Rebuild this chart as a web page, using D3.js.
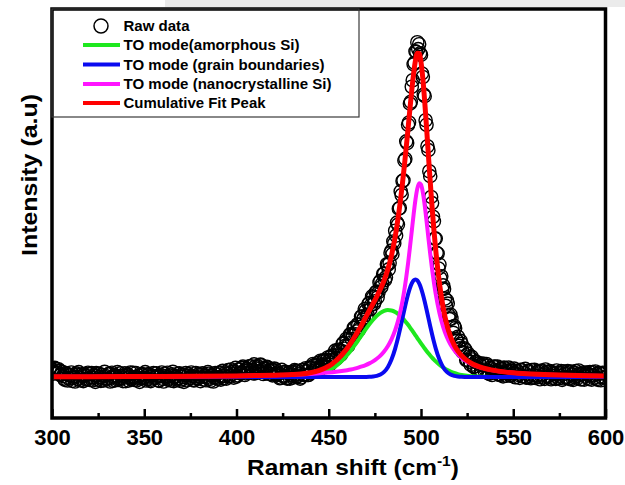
<!DOCTYPE html>
<html>
<head>
<meta charset="utf-8">
<script src="https://cdn.jsdelivr.net/npm/d3@7"></script>
<style>
  html, body { margin: 0; padding: 0; background: #ffffff; }
  svg { display: block; }
  text { font-family: "Liberation Sans", Arial, Helvetica, sans-serif; font-weight: bold; fill: #000; }
</style>
</head>
<body>
<svg id="chart" width="625" height="485"></svg>
<script>
// Raman spectrum of a Si film with a three-component peak deconvolution

const xTicks = [300, 350, 400, 450, 500, 550, 600];
const xMinorTicks = [325, 375, 425, 475, 525, 575];

// Measured spectrum: 0.5 cm^-1 sampling grid and intensity (a.u.)
const rawShift = d3.range(300, 600.5, 0.5);
const rawIntensity = [
  22, 10, 15, 28, 25, 14, 12, 24, 19, 6, 8, 16, 3, -5, -9, 12, 10, -11, -4, 5,
  6, 14, -12, -3, 1, -14, 11, 7, -7, 15, -2, -10, 8, 3, -13, 9, 4, -8, -6, 13,
  9, -9, -1, 12, -10, -2, 5, -15, 12, 4, -8, 10, 0, -12, 7, -4, -11, 16, 3, -7,
  -5, 8, 10, -14, -3, 13, -12, 1, 6, -10, 2, 15, -9, -6, 11, 2, -4, -13, 4, 11,
  -13, 5, 8, -11, -1, 14, -7, -3, 13, -9, 0, 12, -10, -2, 5, -15, -5, 7, 9, -4,
  -2, 15, -11, -6, 7, 9, 1, -13, -8, 4, 12, -1, -3, 11, 3, -10, -12, 2, 6, 14,
  -6, -14, 10, 3, -1, 13, -9, -5, 4, -11, 8, 16, -13, 0, 2, -8, -4, 10, 11, -12,
  -7, 7, 0, -15, 6, 12, -10, 4, 9, -6, -2, 14, 3, -9, -11, 1, 12, -3, -5, 9,
  1, -13, 7, 11, -8, 2, 4, -10, -3, 15, 10, -6, -12, 6, 5, -14, -1, 12, 8, -2,
  -6, 13, 14, -8, 2, 19, -4, 3, 14, -5, 10, 21, 2, 4, 23, 16, 10, -2, 17, 28,
  1, 5, 23, 24, 11, 13, 28, 32, 19, 6, 11, 26, 24, 13, 33, 33, 18, 21, 11, 39,
  32, 12, 26, 33, 18, 19, 38, 36, 21, 9, 28, 25, 12, 31, 29, 10, 18, 24, 9, 5,
  21, 26, 24, 5, 8, 14, 11, -4, -2, 22, 14, 1, 4, 16, -3, -5, 11, 14, -5, 5,
  15, -2, 4, 21, 18, 2, 1, 18, 10, -5, -1, 21, 21, 7, 6, 27, 18, 6, 6, 29,
  28, 13, 17, 40, 36, 20, 26, 36, 43, 19, 27, 50, 39, 33, 51, 50, 33, 31, 52, 60,
  48, 38, 62, 66, 51, 54, 67, 81, 56, 59, 84, 83, 81, 68, 79, 102, 105, 87, 96, 117,
  113, 96, 104, 131, 130, 117, 129, 151, 151, 131, 140, 162, 160, 146, 154, 186, 186, 176, 182, 209,
  203, 184, 192, 224, 228, 208, 222, 248, 245, 225, 233, 260, 263, 245, 261, 291, 296, 277, 288, 317,
  318, 298, 307, 347, 345, 331, 351, 382,
  389, 378, 417, 411, 450, 435, 475, 469, 518, 520,
  571, 560, 603, 605, 666, 671, 725, 720, 776, 783,
  841, 847, 893, 913, 962, 967, 1002, 1000, 1030, 1009,
  1024, 996, 991, 934, 923, 869, 864, 790, 776, 710,
  698, 633, 618, 554, 535, 493, 479, 426, 426, 382,
  380, 334, 346, 304, 310, 271,
  282, 271, 241, 219, 236, 226, 190, 178, 192, 180, 153, 136, 157, 150, 117, 112,
  124, 96, 88, 111, 102, 77, 75, 88, 84, 52, 53, 72, 63, 47, 37, 62, 54, 31, 33, 46,
  47, 22, 24, 42, 37, 16, 17, 41, 36, 18, 23, 40, 35, 11, 10, 29, 26, 6, 14, 31,
  32, 15, 19, 32, 9, 6, 25, 26, 12, 2, 29, 27, 4, 12, 19, 29, 6, 4, 23, 19,
  11, 26, -1, 0, 19, 17, 6, -3, 22, 21, 2, 3, 13, 25, -2, -1, 19, 17, 3, -4,
  21, -2, 6, 22, -3, 4, 14, 18, 0, -7, 18, 20, 7, -1, -6, 23, 15, 1, 3, 16,
  18, -7, -3, 14, 10, 4, -6, 20, 13, -4, 4, 12, 18, -9, -4, 17, 10, 0, -2, 18,
  14, -4, -7, 17, 8, -9, 0, 12, 18, 2, -3, 20, 10, -7, -7, 9, 14, -8, 1, 14,
  12, 8, -6, 15, 6, -8, 15, 5, -3, 17, 9, -6, -9, 12, 12, -10, -1, 13, 10, -1, -3
];

// Fitted components, sampled along the shift axis
const fitShift = [
  300, 320, 340, 360, 380, 400, 410, 420, 430, 435,
  440, 445, 450, 452, 454, 456, 458, 460, 462, 464,
  466, 468, 470, 472, 474, 476, 478, 480, 482, 484,
  486, 487, 488, 489, 490, 491, 492, 493, 494, 495,
  496, 497, 498, 499, 500, 501, 502, 503, 504, 505,
  506, 507, 508, 510, 512, 514, 516, 518, 520, 522,
  524, 526, 528, 530, 534, 538, 542, 546, 550, 555,
  560, 570, 580, 590, 600
];
const amorphousSi = [
  0, 0, 0, 0, 0, 0, 0, 0, 0.5, 1.4,
  3.8, 9.2, 20.0, 26.4, 34.3, 43.8, 54.9, 67.6, 81.7, 97.1,
  113.3, 129.9, 146.4, 162.0, 176.1, 188.1, 197.3, 203.4, 205.9, 204.8,
  200.2, 196.5, 192.1, 187.0, 181.2, 174.8, 167.8, 160.5, 152.7, 144.8,
  136.6, 128.3, 119.9, 111.7, 103.5, 95.5, 87.7, 80.2, 73.0, 66.2,
  59.7, 53.7, 48.0, 37.9, 29.4, 22.4, 16.8, 12.3, 8.9, 6.3,
  4.4, 3.0, 2.0, 1.3, 0.6, 0.2, 0.1, 0, 0, 0,
  0, 0, 0, 0, 0
];
const grainBoundary = [
  0, 0, 0, 0, 0, 0, 0, 0, 0, 0,
  0, 0, 0, 0, 0, 0, 0, 0, 0, 0,
  0, 0.1, 0.2, 0.5, 1.4, 3.3, 7.5, 15.7, 30.2, 53.5,
  87.3, 108.1, 131.3, 156.2, 182.0, 207.8, 232.4, 254.8, 273.7, 288.0,
  297.0, 300.0, 297.0, 288.0, 273.7, 254.8, 232.4, 207.8, 182.0, 156.2,
  131.3, 108.1, 87.3, 53.5, 30.2, 15.7, 7.5, 3.3, 1.4, 0.5,
  0.2, 0.1, 0, 0, 0, 0, 0, 0, 0, 0,
  0, 0, 0, 0, 0
];
const nanoSi = [
  0.8, 1.0, 1.3, 1.7, 2.4, 3.4, 4.2, 5.3, 6.9, 8.0,
  9.4, 11.2, 13.5, 14.6, 15.9, 17.4, 19.1, 21.0, 23.2, 25.8,
  28.8, 32.4, 36.7, 41.9, 48.2, 56.1, 65.8, 78.3, 94.4, 115.7,
  144.0, 161.8, 182.6, 206.9, 235.2, 268.4, 306.6, 350.0, 398.2, 449.3,
  500.2, 545.7, 579.6, 596.0, 591.8, 567.8, 528.5, 480.1, 428.7, 378.4,
  332.0, 290.7, 254.5, 196.7, 154.4, 123.3, 100.2, 82.7, 69.3, 58.8,
  50.4, 43.7, 38.2, 33.6, 26.6, 21.6, 17.9, 15.0, 12.8, 10.6,
  9.0, 6.6, 5.1, 4.1, 3.3
];

const legendLabels = [
  "Raw data",
  "TO mode(amorphous Si)",
  "TO mode (grain boundaries)",
  "TO mode (nanocrystalline Si)",
  "Cumulative Fit Peak"
];

// ---- layout ----
const W = 625, H = 485;
const plot = { left: 52, right: 605.5, top: 9, bottom: 418 };

const svg = d3.select("#chart");

svg.append("rect").attr("width", W).attr("height", H).attr("fill", "#ffffff");
svg.append("rect").attr("x", 165).attr("y", 0).attr("width", W - 165).attr("height", 7).attr("fill", "#ebebeb");

const x = d3.scaleLinear().domain([300, 600]).range([plot.left, plot.right]);
const y = d3.scaleLinear().domain([-126.2, 1132.3]).range([plot.bottom, plot.top]);

svg.append("defs").append("clipPath").attr("id", "plotClip")
  .append("rect")
  .attr("x", plot.left).attr("y", plot.top)
  .attr("width", plot.right - plot.left).attr("height", plot.bottom - plot.top);

const body = svg.append("g").attr("clip-path", "url(#plotClip)");

// measured points: open circles
const rawData = rawShift.map((s, i) => ({ s, v: rawIntensity[i] }));
body.append("g").selectAll("circle")
  .data(rawData)
  .join("circle")
  .attr("cx", d => x(d.s))
  .attr("cy", d => y(d.v))
  .attr("r", 6.6)
  .attr("fill", "none")
  .attr("stroke", "#000")
  .attr("stroke-width", 1.4);

// fitted curves
const cumulative = fitShift.map((s, i) => amorphousSi[i] + grainBoundary[i] + nanoSi[i]);
const curves = [
  { values: amorphousSi, color: "#1ee81e", width: 4 },
  { values: grainBoundary, color: "#0a0af0", width: 4 },
  { values: nanoSi, color: "#ff14ff", width: 4 },
  { values: cumulative, color: "#ff0000", width: 5 }
];
const line = d3.line()
  .x(d => x(d[0]))
  .y(d => y(d[1]))
  .curve(d3.curveMonotoneX);

curves.forEach(c => {
  body.append("path")
    .datum(fitShift.map((s, i) => [s, c.values[i]]))
    .attr("d", line)
    .attr("fill", "none")
    .attr("stroke", c.color)
    .attr("stroke-width", c.width)
    .attr("stroke-linejoin", "round");
});

// bottom axis: inward ticks
const axisG = svg.append("g").attr("transform", `translate(0,${plot.bottom})`);
axisG.call(d3.axisBottom(x).tickValues(xTicks).tickSizeInner(-9).tickSizeOuter(0).tickPadding(11).tickFormat(d3.format("d")));
axisG.select(".domain").remove();
axisG.selectAll(".tick line").attr("stroke", "#000").attr("stroke-width", 2.5);
axisG.selectAll(".tick text").attr("font-size", 22).attr("font-family", null);

const minorG = svg.append("g").attr("transform", `translate(0,${plot.bottom})`);
minorG.call(d3.axisBottom(x).tickValues(xMinorTicks).tickSizeInner(-5).tickSizeOuter(0).tickFormat(""));
minorG.select(".domain").remove();
minorG.selectAll(".tick line").attr("stroke", "#000").attr("stroke-width", 2.5);

// frame
svg.append("rect")
  .attr("x", plot.left).attr("y", plot.top)
  .attr("width", plot.right - plot.left).attr("height", plot.bottom - plot.top)
  .attr("fill", "none").attr("stroke", "#000").attr("stroke-width", 3.5);

// legend
const legend = svg.append("g");
legend.append("rect")
  .attr("x", plot.left).attr("y", plot.top)
  .attr("width", 307).attr("height", 108)
  .attr("fill", "none").attr("stroke", "#3a3a3a").attr("stroke-width", 1.2);

const rowY = [26, 45, 64.5, 84, 103];
const textW = [66, 176, 201, 208, 142];
legend.append("circle")
  .attr("cx", 101).attr("cy", rowY[0]).attr("r", 7)
  .attr("fill", "#fff").attr("stroke", "#000").attr("stroke-width", 1.5);
curves.forEach((c, i) => {
  legend.append("line")
    .attr("x1", 83).attr("x2", 120)
    .attr("y1", rowY[i + 1]).attr("y2", rowY[i + 1])
    .attr("stroke", c.color).attr("stroke-width", 4);
});
legendLabels.forEach((t, i) => {
  legend.append("text")
    .attr("x", 123.5).attr("y", rowY[i] + 5)
    .attr("font-size", 14.5)
    .attr("textLength", textW[i])
    .attr("lengthAdjust", "spacingAndGlyphs")
    .text(t);
});

// axis titles
const xt = svg.append("g").attr("transform", "translate(247,475) scale(1.11,1)");
const xtText = xt.append("text").attr("font-size", 22);
xtText.append("tspan").text("Raman shift (cm");
xtText.append("tspan").attr("font-size", 14).attr("dy", -9).text("-1");
xtText.append("tspan").attr("dy", 9).text(")");

svg.append("text")
  .attr("transform", "translate(37,175) rotate(-90)")
  .attr("text-anchor", "middle")
  .attr("font-size", 22)
  .attr("textLength", 162)
  .attr("lengthAdjust", "spacingAndGlyphs")
  .text("Intensity (a.u)");
</script>
</body>
</html>
